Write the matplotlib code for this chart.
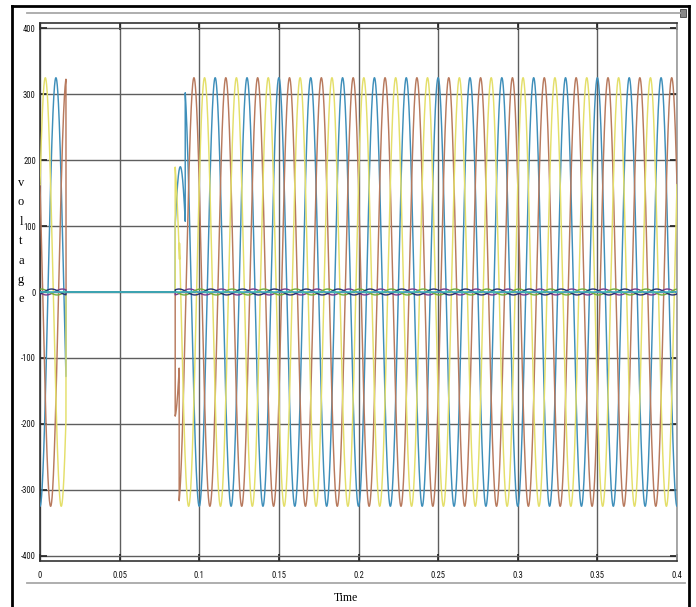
import numpy as np
import matplotlib
matplotlib.use("Agg")
import matplotlib.pyplot as plt
from matplotlib.lines import Line2D
from matplotlib.patches import Rectangle
from matplotlib import font_manager

# ---------------- data ----------------
x_ticks = [0, 0.05, 0.1, 0.15, 0.2, 0.25, 0.3, 0.35, 0.4]
x_tick_labels = ["0", "0.05", "0.1", "0.15", "0.2", "0.25", "0.3", "0.35", "0.4"]
y_ticks = [400, 300, 200, 100, 0, -100, -200, -300, -400]
y_tick_labels = ["400", "300", "200", "100", "0", "-100", "-200", "-300", "-400"]

freq_hz = 50.0                      # one cycle = 0.02 s
peak_amplitude = 325.0              # steady-state peak voltage
phase_colors = ["#3f8fba", "#b87a5e", "#e4df6a"]   # blue, brown, yellow
trough_time = [0.0, 0.00667, 0.01333]               # time of first negative peak
first_off_time = 0.0163             # supply lost
restart_time = 0.0849               # supply back
reduced_amplitude = [190.0, 190.0, 215.0]
reduced_shift = [-0.0019, -0.0022, 0.0]
full_resume_time = [0.0912, 0.0874, 0.0876]

ripple_amplitude = 4.5
ripple_colors = ["#7a3d8c", "#72ad3c", "#283070"]
ripple_trough_time = [0.004, 0.0107, 0.0173]
zero_line_color = "#3dbdc8"

# ---------------- fonts ----------------
available = {f.name for f in font_manager.fontManager.ttflist}
narrow = None
for cand in ["Liberation Sans Narrow", "Roboto Condensed", "Open Sans Condensed",
             "DejaVu Sans Condensed", "Arial Narrow"]:
    if cand in available:
        narrow = cand
        break
if narrow is None:
    tick_family = ["Liberation Sans", "DejaVu Sans"]
    tick_size = 5.2
else:
    tick_family = [narrow, "DejaVu Sans"]
    tick_size = 6.2

# ---------------- figure ----------------
W, H = 696, 607
fig = plt.figure(figsize=(W / 100, H / 100), dpi=100)
fig.patch.set_facecolor("white")

ax = fig.add_axes([40 / W, (H - 561) / H, (677 - 40) / W, (561 - 23) / H])

t = np.linspace(0.0, 0.4, 40001)
w = 2 * np.pi * freq_hz
on = (t <= first_off_time) | (t >= restart_time)

for i in range(3):
    full = -peak_amplitude * np.cos(w * (t - trough_time[i]))
    red = -reduced_amplitude[i] * np.cos(w * (t - trough_time[i] - reduced_shift[i]))
    v = np.where(on, full, 0.0)
    trans = (t >= restart_time) & (t < full_resume_time[i])
    v = np.where(trans, red, v)
    ax.plot(t, v, color=phase_colors[i], lw=1.05, zorder=3)

for i in range(3):
    r = -ripple_amplitude * np.cos(w * (t - ripple_trough_time[i]))
    r = np.where(on, r, 0.0)
    ax.plot(t, r, color=ripple_colors[i], lw=1.0, zorder=4)

ax.plot(t, np.zeros_like(t), color=zero_line_color, lw=1.1, zorder=5)

ax.set_xlim(0, 0.4)
ax.set_ylim(-408, 408)
ax.set_xticks(x_ticks)
ax.set_xticklabels(x_tick_labels)
ax.set_yticks(y_ticks)
ax.set_yticklabels(y_tick_labels)
ax.grid(True, color="#5e5e5e", lw=1.0, zorder=1)
ax.set_axisbelow(True)

for lab in ax.get_xticklabels() + ax.get_yticklabels():
    lab.set_fontfamily(tick_family)
    lab.set_fontsize(tick_size)
    lab.set_color("#111111")
ax.tick_params(direction="in", length=5, width=1.2, top=True, right=True,
               colors="#222222", labelcolor="#111111", pad=7)
ax.tick_params(axis="y", pad=3)
for s in ["top", "bottom", "left"]:
    ax.spines[s].set_color("#333333")
    ax.spines[s].set_linewidth(1.2)
ax.spines["right"].set_color("#9a9a9a")
ax.spines["right"].set_linewidth(1.2)

# y label as stacked letters
serif = ["Liberation Serif", "DejaVu Serif"]
letters = "voltage"
for k, ch in enumerate(letters):
    y = 183 + k * 19.4
    fig.text(21 / W, 1 - y / H, ch, ha="center", va="center",
             family=serif, fontsize=9)
fig.text(346 / W, 1 - 598 / H, "Time", ha="center", va="center",
         family=serif, fontsize=8.5)

# decorations: outer black frame and gray lines
def fl(x0, y0, x1, y1, **kw):
    fig.add_artist(Line2D([x0 / W, x1 / W], [1 - y0 / H, 1 - y1 / H],
                          transform=fig.transFigure, **kw))

fl(12, 607, 12, 6, color="black", lw=2.0)
fl(12, 6, 689, 6, color="black", lw=2.0)
fl(689, 6, 689, 607, color="black", lw=2.0)
fl(27, 13, 680, 13, color="#a8a8a8", lw=1.3)
fl(27, 583, 685, 583, color="#a8a8a8", lw=1.3)
fig.add_artist(Rectangle((680 / W, 1 - 17 / H), 6 / W, 8 / H,
                         transform=fig.transFigure, facecolor="#888888",
                         edgecolor="#444444", lw=0.6))

fig.savefig("out.png", dpi=100)
